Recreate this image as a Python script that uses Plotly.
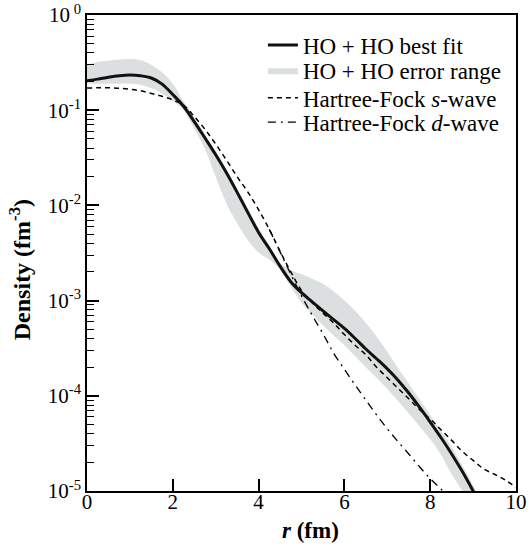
import plotly.graph_objects as go

# ---- data ----
r_fit = [0.0, 0.25, 0.5, 0.75, 1.0, 1.25, 1.5, 1.75, 2.0, 2.25, 2.5, 2.75, 3.0, 3.25, 3.5, 3.75,
         4.0, 4.25, 4.5, 4.75, 5.0, 5.25, 5.5, 5.75, 6.0, 6.25, 6.5, 6.75, 7.0, 7.25, 7.5, 7.75,
         8.0, 8.25, 8.5, 8.75, 9.0, 9.1]
best_fit = [0.204, 0.212, 0.222, 0.230, 0.234, 0.230, 0.218, 0.188, 0.146, 0.110, 0.076, 0.051,
            0.034, 0.022, 0.0137, 0.0084, 0.0052, 0.0035, 0.0023, 0.00158, 0.00121, 0.00097,
            0.00078, 0.00063, 0.00051, 0.00040, 0.00031, 0.000245, 0.000192, 0.000146, 0.000107,
            7.6e-5, 5.3e-5, 3.65e-5, 2.45e-5, 1.6e-5, 1.0e-5, 8.2e-6]
band_upper = [0.30, 0.32, 0.33, 0.34, 0.345, 0.335, 0.30, 0.25, 0.19, 0.124, 0.084, 0.056,
              0.037, 0.024, 0.015, 0.0093, 0.0058, 0.0038, 0.0025, 0.0021, 0.0019, 0.0017,
              0.0015, 0.00125, 0.0010, 0.00078, 0.00058, 0.00042, 0.00029, 0.000195, 0.000135,
              9.2e-5, 6.3e-5, 4.3e-5, 2.9e-5, 1.85e-5, 1.15e-5, 9.5e-6]
band_lower = [0.19, 0.19, 0.19, 0.19, 0.19, 0.185, 0.17, 0.15, 0.125, 0.100, 0.064, 0.039,
              0.020, 0.0105, 0.0065, 0.0043, 0.0032, 0.0027, 0.0021, 0.0014, 0.00095, 0.00072,
              0.00055, 0.00043, 0.00034, 0.00026, 0.00020, 0.000155, 0.000118, 8.8e-5, 6.5e-5,
              4.8e-5, 3.5e-5, 2.4e-5, 1.5e-5, 1.0e-5, 6e-6, 5e-6]

r_s = [0.0, 0.25, 0.5, 0.75, 1.0, 1.25, 1.5, 1.75, 2.0, 2.25, 2.5, 2.75, 3.0, 3.25, 3.5, 3.75,
       4.0, 4.25, 4.5, 4.75, 5.0, 5.25, 5.5, 5.75, 6.0, 6.25, 6.5, 6.75, 7.0, 7.25, 7.5, 7.75,
       8.0, 8.25, 8.5, 8.75, 9.0, 9.25, 9.5, 9.75, 10.0]
s_wave = [0.171, 0.172, 0.172, 0.170, 0.166, 0.160, 0.150, 0.140, 0.128, 0.113, 0.086, 0.063,
          0.044, 0.030, 0.020, 0.0138, 0.0090, 0.0056, 0.0033, 0.0020, 0.00128, 0.00095,
          0.00074, 0.00058, 0.00044, 0.00034, 0.00027, 0.00020, 0.000155, 0.00012, 9.3e-5,
          7.2e-5, 5.7e-5, 4.4e-5, 3.4e-5, 2.6e-5, 2.1e-5, 1.7e-5, 1.5e-5, 1.3e-5, 1.1e-5]

r_d = [4.25, 4.5, 4.75, 5.0, 5.25, 5.5, 5.75, 6.0, 6.25, 6.5, 6.75, 7.0, 7.25, 7.5, 7.75, 8.0,
       8.25, 8.5]
d_wave = [5.6e-3, 3.25e-3, 1.9e-3, 1.12e-3, 7.0e-4, 4.5e-4, 2.8e-4, 1.9e-4, 1.3e-4, 9.0e-5,
          6.3e-5, 4.5e-5, 3.3e-5, 2.45e-5, 1.8e-5, 1.35e-5, 1.05e-5, 8e-6]

y_major = [1e-5, 1e-4, 1e-3, 1e-2, 1e-1, 1]
y_major_text = ["10<sup>-5</sup>", "10<sup>-4</sup>", "10<sup>-3</sup>", "10<sup>-2</sup>",
                "10<sup>-1</sup>", "10<sup> 0</sup>"]
x_ticks = [0, 2, 4, 6, 8, 10]

FONT = "Liberation Serif, Times New Roman, serif"
BAND = "#dcdfdf"
SPL = dict(shape="spline", smoothing=1.0)

fig = go.Figure()
fig.add_trace(go.Scatter(x=r_fit, y=band_lower, mode="lines",
                         line=dict(width=0, color=BAND, **SPL),
                         showlegend=False, hoverinfo="skip"))
fig.add_trace(go.Scatter(x=r_fit, y=band_upper, mode="lines",
                         line=dict(width=0, color=BAND, **SPL),
                         fill="tonexty", fillcolor=BAND, name="HO + HO error range",
                         legend="legend2"))
fig.add_trace(go.Scatter(x=r_s, y=s_wave, mode="lines",
                         line=dict(color="black", width=1.5, dash="5px,4px", **SPL),
                         name="Hartree-Fock <i>s</i>-wave", legend="legend3"))
fig.add_trace(go.Scatter(x=r_d, y=d_wave, mode="lines",
                         line=dict(color="black", width=1.3, dash="8px,5px,2px,5px", **SPL),
                         name="Hartree-Fock <i>d</i>-wave", legend="legend4"))
fig.add_trace(go.Scatter(x=r_fit, y=best_fit, mode="lines",
                         line=dict(color="#111111", width=3, **SPL),
                         name="HO + HO best fit", legend="legend"))

minor_vals = [m * 10 ** e for e in range(-5, 0) for m in range(2, 10)]


def leg(ycenter):
    return dict(x=0.41, y=ycenter, xanchor="left", yanchor="middle",
                bgcolor="rgba(0,0,0,0)", borderwidth=0,
                font=dict(family=FONT, size=23, color="black"))


fig.update_layout(
    width=529, height=550,
    margin=dict(l=87, r=13, t=15, b=59, autoexpand=False),
    paper_bgcolor="white", plot_bgcolor="white",
    font=dict(family=FONT, size=20, color="black"),
    legend=leg(0.937), legend2=leg(0.884), legend3=leg(0.826), legend4=leg(0.775),
    xaxis=dict(range=[0, 10], tickvals=x_ticks, ticks="inside", ticklen=12, tickwidth=1.5,
               tickcolor="black", showline=True, linecolor="black", linewidth=1.5,
               mirror=True, showgrid=False, zeroline=False, automargin=False,
               tickfont=dict(family=FONT, size=21), ticklabelstandoff=-9),
    yaxis=dict(type="log", range=[-5, 0], tickvals=y_major, ticktext=y_major_text,
               ticks="inside", ticklen=12, tickwidth=1.5, tickcolor="black",
               showline=True, linecolor="black", linewidth=1.5, mirror=True,
               showgrid=False, zeroline=False, automargin=False,
               tickfont=dict(family=FONT, size=21),
               minor=dict(tickmode="array", tickvals=minor_vals, ticks="inside",
                          ticklen=7, tickwidth=1.2, tickcolor="black", showgrid=False)),
    annotations=[
        dict(text="<b>Density (fm<sup>-3</sup>)</b>", textangle=-90, showarrow=False,
             xref="paper", yref="paper", x=-0.156, y=0.464, xanchor="center",
             yanchor="middle", font=dict(family=FONT, size=24, color="black")),
        dict(text="<b><i>r</i> (fm)</b>", showarrow=False, xref="paper", yref="paper",
             x=0.52, y=-0.084, xanchor="center", yanchor="middle",
             font=dict(family=FONT, size=23, color="black")),
    ],
)

fig.write_html("out.html")
